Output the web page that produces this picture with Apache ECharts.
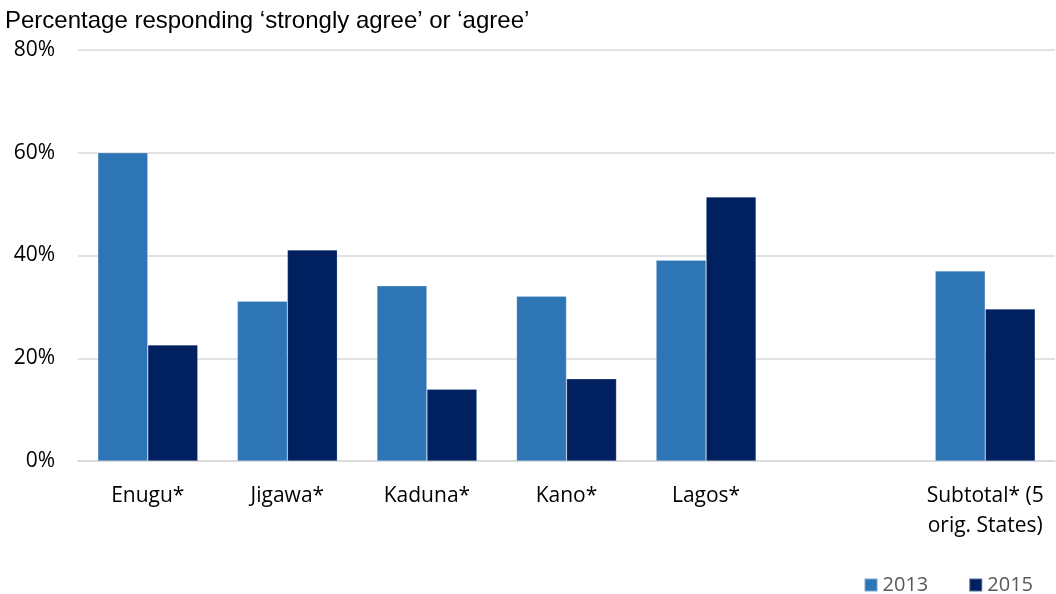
<!DOCTYPE html>
<html>
<head>
<meta charset="utf-8">
<script src="https://cdn.jsdelivr.net/npm/echarts@6/dist/echarts.min.js"></script>
<style>
  html, body { margin: 0; padding: 0; background: #fff; }
  #chart { width: 1056px; height: 594px; }
</style>
</head>
<body>
<div id="chart"></div>
<script>
// Share of respondents answering 'strongly agree' or 'agree', by State
const categories = ['Enugu*', 'Jigawa*', 'Kaduna*', 'Kano*', 'Lagos*', '', 'Subtotal* (5\norig. States)'];
const values2013 = [60.0, 31.1, 34.1, 32.1, 39.1, null, 37.0];
const values2015 = [22.6, 41.1, 14.0, 16.0, 51.4, null, 29.6];
const seriesNames = ['2013', '2015'];
const yTicks = [0, 20, 40, 60, 80];

const chart = echarts.init(document.getElementById('chart'), null, { renderer: 'canvas' });

const labelFont = '"Open Sans", "Noto Sans", sans-serif';

chart.setOption({
  animation: false,
  backgroundColor: '#ffffff',
  title: {
    text: 'Percentage responding \u2018strongly agree\u2019 or \u2018agree\u2019',
    left: 0,
    top: 4,
    textStyle: { fontFamily: '"Liberation Sans", Arial, sans-serif', fontSize: 24, fontWeight: 'normal', color: '#000' }
  },
  legend: {
    data: seriesNames,
    right: 18,
    top: 570,
    itemWidth: 13,
    itemHeight: 13,
    itemGap: 40,
    icon: 'rect',
    textStyle: { fontFamily: labelFont, fontSize: 20, color: '#595959' }
  },
  grid: { left: 78, right: 1, top: 50, bottom: 133, containLabel: false },
  xAxis: {
    type: 'category',
    data: categories,
    axisLine: { show: true, lineStyle: { color: '#d9d9d9', width: 1.5 } },
    axisTick: { show: false },
    axisLabel: {
      interval: 0,
      margin: 20,
      fontFamily: labelFont,
      fontSize: 21,
      color: '#000',
      lineHeight: 30
    }
  },
  yAxis: {
    type: 'value',
    min: yTicks[0],
    max: yTicks[yTicks.length - 1],
    interval: 20,
    axisLine: { show: false },
    axisTick: { show: false },
    splitLine: { lineStyle: { color: '#d9d9d9', width: 1.5 } },
    axisLabel: {
      margin: 23,
      fontFamily: labelFont,
      fontSize: 21,
      color: '#000',
      formatter: v => v + '%'
    }
  },
  series: [
    {
      name: seriesNames[0],
      type: 'bar',
      data: values2013,
      barWidth: 50,
      barGap: '0%',
      itemStyle: { color: '#2e75b6', borderColor: 'rgba(255,255,255,0.35)', borderWidth: 0.6 }
    },
    {
      name: seriesNames[1],
      type: 'bar',
      data: values2015,
      barWidth: 50,
      barGap: '0%',
      itemStyle: { color: '#002060', borderColor: 'rgba(255,255,255,0.35)', borderWidth: 0.6 }
    }
  ]
});
</script>
</body>
</html>
